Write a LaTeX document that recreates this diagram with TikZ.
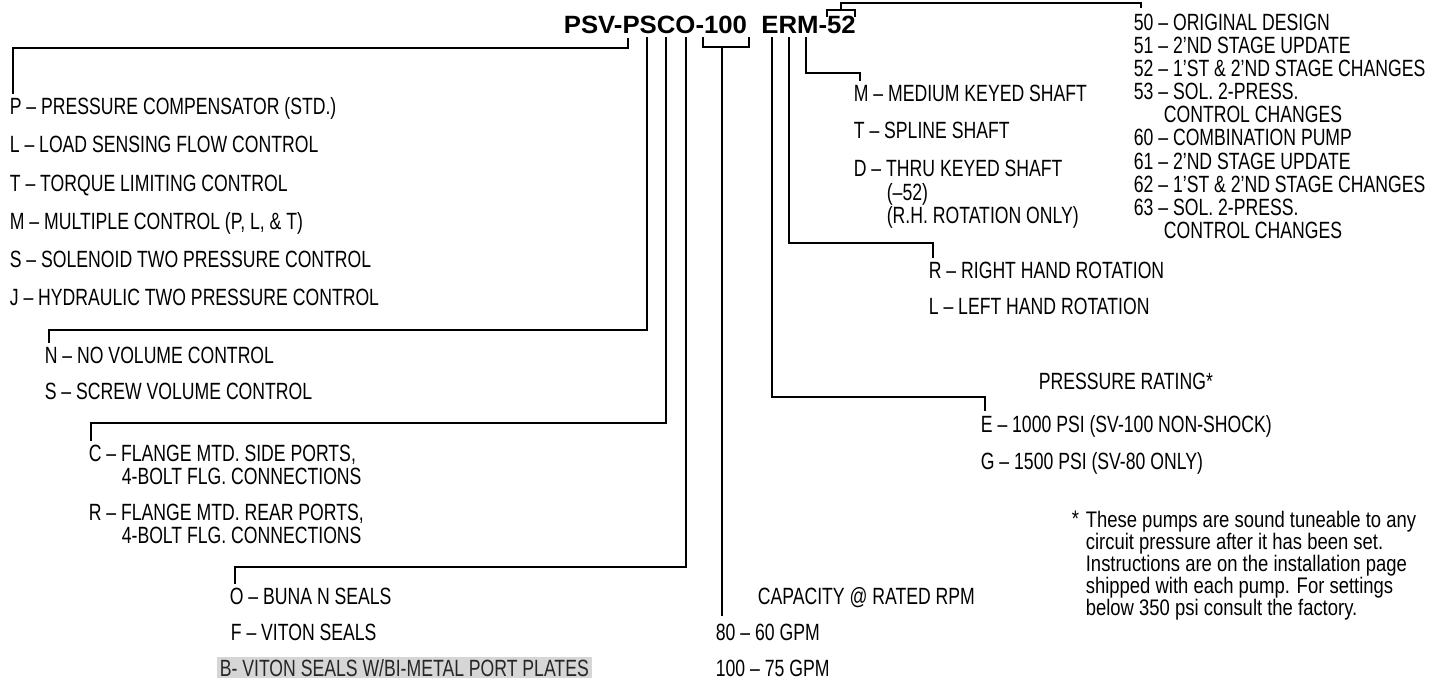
\documentclass[tikz,border=0pt]{standalone}
\usepackage{fontspec}
\setmainfont[FakeStretch=0.75]{Liberation Sans}
\newfontfamily\titlefont[FakeStretch=1.03]{Liberation Sans}
\newfontfamily\notefont[FakeStretch=0.82]{Liberation Sans}
\begin{document}
\begin{tikzpicture}[x=1pt,y=-1pt,line width=1.7pt,
  lbl/.style={anchor=base west,inner sep=0pt,font=\fontsize{23.5}{24}\selectfont},
  note/.style={anchor=north west,inner sep=0pt,align=left,font=\notefont\fontsize{22.5}{20}\selectfont},
  conn/.style={line width=1.7pt,shorten >=3pt},
  shade/.style={lbl,fill=black!16,inner xsep=3pt,inner ysep=1.5pt,text=black!85}]
\useasboundingbox (0,0) rectangle (1448,682);
% title
\node[anchor=base west,inner sep=0pt,font=\titlefont\bfseries\fontsize{25}{26}\selectfont] (ttl) at (563,34) {PSV-PSCO-100\ \ ERM-52};
% feet of letters
\coordinate (fP) at (628,38);
\coordinate (fS) at (647,37);
\coordinate (fC) at (666,37);
\coordinate (fO) at (686,37);
\coordinate (fE) at (772,37);
\coordinate (fR) at (789,37);
\coordinate (fM) at (806,37);
\coordinate (bA) at (703,37);
\coordinate (bB) at (749,37);
\coordinate (fH) at (722,47);
\coordinate (cA) at (827,17);
\coordinate (cB) at (855,17);
\coordinate (fV) at (841,10);
% corners
\coordinate (hP) at (13,48);
\coordinate (hS) at (49,330);
\coordinate (hC) at (91,423);
\coordinate (hO) at (235,567);
\coordinate (hE) at (985,397);
\coordinate (hR) at (933,243);
\coordinate (hM) at (860,73);
\coordinate (topEnd) at (1141,3);
\coordinate (topTick) at (1141,8);
% left list
\node[lbl] (tP) at (9,115) {P – PRESSURE COMPENSATOR (STD.)};
\node[lbl] (tL) at (9,153) {L – LOAD SENSING FLOW CONTROL};
\node[lbl] (tT) at (9,191) {T – TORQUE LIMITING CONTROL};
\node[lbl] (tM) at (9,229) {M – MULTIPLE CONTROL (P, L, \& T)};
\node[lbl] (tS) at (9,267) {S – SOLENOID TWO PRESSURE CONTROL};
\node[lbl] (tJ) at (9,305) {J – HYDRAULIC TWO PRESSURE CONTROL};
\node[lbl] (tN) at (44,363) {N – NO VOLUME CONTROL};
\node[lbl] (tSV) at (44,399) {S – SCREW VOLUME CONTROL};
\node[lbl] (tC1) at (88,461) {C – FLANGE MTD. SIDE PORTS,};
\node[lbl] (tC2) at (121,484) {4-BOLT FLG. CONNECTIONS};
\node[lbl] (tR1) at (88,520) {R – FLANGE MTD. REAR PORTS,};
\node[lbl] (tR2) at (121,543) {4-BOLT FLG. CONNECTIONS};
\node[lbl] (tO) at (229,604) {O – BUNA N SEALS};
\node[lbl] (tF) at (230,640) {F – VITON SEALS};
\node[shade] (tB) at (216,676) {B- VITON SEALS W/BI-METAL PORT PLATES};
% capacity
\node[lbl] (tCap) at (757,604) {CAPACITY @ RATED RPM};
\node[lbl] (t80) at (715,640) {80 – 60 GPM};
\node[lbl] (t100) at (715,676) {100 – 75 GPM};
% pressure
\node[lbl] (tPR) at (1038,389) {PRESSURE RATING*};
\node[lbl] (tE) at (980,432) {E – 1000 PSI (SV-100 NON-SHOCK)};
\node[lbl] (tG) at (980,469) {G – 1500 PSI (SV-80 ONLY)};
% rotation
\node[lbl] (tRR) at (928,278) {R – RIGHT HAND ROTATION};
\node[lbl] (tLL) at (928,314) {L – LEFT HAND ROTATION};
% shaft
\node[lbl] (tMS) at (853,101.5) {M – MEDIUM KEYED SHAFT};
\node[lbl] (tTS) at (853,138.5) {T – SPLINE SHAFT};
\node[lbl] (tDS) at (853,176) {D – THRU KEYED SHAFT};
\node[lbl] (tD2) at (886,200) {(–52)};
\node[lbl] (tD3) at (886,223.5) {(R.H. ROTATION ONLY)};
% design series
\node[lbl] (r0) at (1133,31) {50 – ORIGINAL DESIGN};
\node[lbl] (r1) at (1133,54) {51 – 2’ND STAGE UPDATE};
\node[lbl] (r2) at (1133,77) {52 – 1’ST \& 2’ND STAGE CHANGES};
\node[lbl] (r3) at (1133,100) {53 – SOL. 2-PRESS.};
\node[lbl] (r4) at (1163,123) {CONTROL CHANGES};
\node[lbl] (r5) at (1133,146) {60 – COMBINATION PUMP};
\node[lbl] (r6) at (1133,169) {61 – 2’ND STAGE UPDATE};
\node[lbl] (r7) at (1133,192) {62 – 1’ST \& 2’ND STAGE CHANGES};
\node[lbl] (r8) at (1133,215) {63 – SOL. 2-PRESS.};
\node[lbl] (r9) at (1163,238) {CONTROL CHANGES};
% footnote
\node[note] (nStar) at (1071,510) {*};
\node[note] (note) at (1085,510) {These pumps are sound tuneable to any\\circuit pressure after it has been set.\\Instructions are on the installation page\\shipped with each pump. For settings\\below 350 psi consult the factory.};
% connectors
\draw[conn] (fP) |- (hP) -- (hP |- tP.north);
\draw[conn] (fS) |- (hS) -- (hS |- tN.north);
\draw[conn] (fC) |- (hC) -- (hC |- tC1.north);
\draw[conn] (fO) |- (hO) -- (hO |- tO.north);
\draw (bA) |- (fH) -| (bB);
\draw[conn,shorten >=7pt] (fH) -- (fH |- t80.north);
\draw[conn] (fE) |- (hE) -- (hE |- tE.north);
\draw[conn] (fR) |- (hR) -- (hR |- tRR.north);
\draw[conn] (fM) |- (hM) -- (hM |- tMS.north);
\draw (cA) |- (fV) -| (cB);
\draw (fV) |- (topEnd) -- (topTick);
\end{tikzpicture}
\end{document}
